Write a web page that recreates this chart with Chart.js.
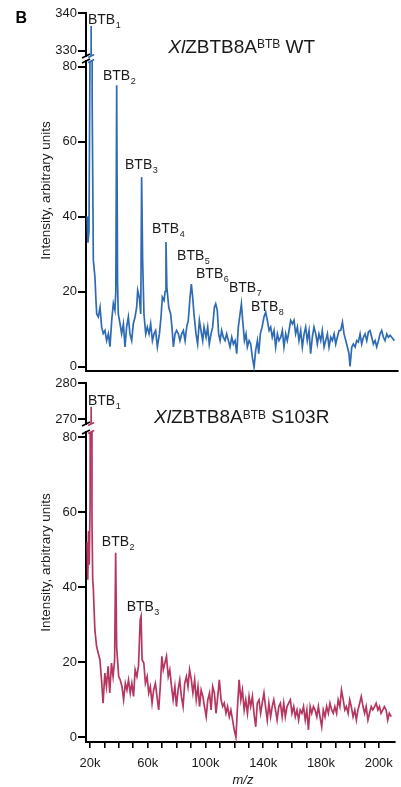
<!DOCTYPE html>
<html>
<head>
<meta charset="utf-8">
<script src="https://cdn.jsdelivr.net/npm/chart.js@4"></script>
<style>
html, body { margin: 0; padding: 0; background: #fff; }
#wrap { position: relative; width: 401px; height: 787px; }
#wrap canvas { position: absolute; left: 0; top: 0; }
</style>
</head>
<body>
<div id="wrap">
<canvas id="wtHigh" width="401" height="787"></canvas>
<canvas id="wtLow" width="401" height="787"></canvas>
<canvas id="mutHigh" width="401" height="787"></canvas>
<canvas id="mutLow" width="401" height="787"></canvas>
</div>
<script>
// m/z in thousands, intensity in arbitrary units
var wtMz = [18.0, 18.6, 19.3, 20.1, 20.8, 21.5, 22.3, 23.4, 24.1, 24.6, 25.7, 26.9, 28.0, 29.1, 30.3, 31.4, 32.6, 33.7, 34.9, 36.0,
    37.1, 37.7, 38.3, 38.9, 39.4, 40.6, 41.7, 42.9, 44.0, 45.1, 46.3, 47.4, 48.6, 49.7, 50.9, 52.0, 52.7, 53.8, 54.8, 55.4,
    56.1, 57.0, 58.2, 59.3, 60.5, 61.6, 62.8, 63.9, 65.0, 66.2, 67.6, 68.7, 69.6, 70.8, 71.5, 72.1, 72.7, 74.0, 75.3, 76.2,
    77.2, 78.3, 79.4, 80.6, 81.7, 82.9, 84.0, 85.2, 86.3, 87.4, 88.6, 89.5, 90.4, 91.3, 92.7, 93.8, 95.0, 96.1, 97.3, 98.2,
    99.6, 100.7, 101.8, 103.0, 104.1, 105.3, 106.2, 107.3, 108.2, 109.2, 110.3, 111.4, 112.6, 113.7, 114.9, 116.0, 117.2, 118.3, 119.5, 120.6,
    121.7, 122.9, 123.8, 124.7, 125.9, 127.0, 127.9, 129.1, 130.2, 131.3, 132.5, 133.6, 134.8, 135.7, 136.8, 138.0, 139.3, 140.5, 141.6, 142.8,
    143.9, 145.0, 146.2, 147.3, 148.5, 149.6, 150.8, 151.9, 153.0, 154.2, 155.3, 156.5, 157.6, 158.8, 159.9, 161.0, 162.2, 163.3, 164.5, 165.6,
    166.8, 167.9, 169.0, 170.2, 171.3, 172.5, 173.6, 174.8, 175.9, 177.0, 178.2, 179.3, 180.5, 181.6, 182.8, 183.9, 185.1, 186.2, 187.4, 188.5,
    189.6, 190.8, 191.9, 193.1, 194.2, 195.4, 196.5, 197.6, 198.3, 199.5, 200.6, 201.8, 202.9, 204.0, 205.2, 206.3, 207.5, 208.6, 209.8, 210.9,
    212.0, 213.2, 214.3, 215.5, 216.6, 217.8, 218.9, 220.0, 221.2, 222.3, 223.5, 224.6, 225.8, 226.9, 228.7];
var wtInt = [40, 33, 36, 90, 336.6, 70, 28.3, 23.8, 17.6, 14, 13.2, 15.8, 10.5, 8.8, 9.6, 6.9, 8.7, 5.3, 12.3, 16.8,
    15, 20, 75, 22, 14, 11.4, 8.7, 11.4, 5.2, 10.5, 13.2, 8.7, 6.9, 11.4, 13.2, 15.8, 20.3, 18.5, 14, 50.5,
    28.3, 14, 8.7, 10.5, 8.7, 11.4, 6.9, 8.7, 9.6, 5.2, 8.7, 13.2, 18.5, 17.6, 20, 33.2, 21.2, 15.8, 14, 10.5,
    5.2, 8.7, 9.6, 8.7, 6.9, 8.7, 9.6, 6.9, 10.5, 12.3, 18.5, 22, 18.5, 14, 8.7, 6, 12.3, 9.6, 6.9, 10.5,
    7.8, 10.5, 6, 8.7, 10.5, 15.8, 16.7, 14.9, 8.7, 6.9, 9.6, 7.8, 6.9, 8.7, 6.9, 5.2, 7.8, 6, 6.9, 3.4,
    10.5, 14, 16.7, 12.3, 6.9, 8.7, 5.2, 6.9, 6, 2.5, -0.2, 4.3, 6.9, 3.4, 8.7, 10.5, 13.2, 14.5, 12.3, 9.6,
    10.5, 7.8, 9.6, 5.2, 8.7, 6.9, 7.8, 9.6, 5.2, 8.7, 6.9, 9.6, 12.3, 11.4, 12.3, 8.7, 10.5, 6.9, 9.6, 5.2,
    8.7, 10.5, 6.9, 9.6, 3.4, 8, 10.5, 8.7, 6, 8.7, 6.9, 9.6, 5.2, 6.9, 8.7, 5.2, 7.8, 6.9, 8.7, 6,
    7.8, 9.6, 9.6, 11.8, 8.7, 6.9, 5.2, 3.4, 0, 5.2, 6, 5.2, 6.9, 6.5, 8.7, 6, 7.8, 8.7, 6.9, 9.2,
    9.6, 7.8, 6, 6.9, 5.2, 6.9, 8.7, 9.6, 7.8, 6.9, 8.7, 7.8, 8.3, 7.8, 6.9];

var mutMz = [18.0, 18.5, 19.0, 19.5, 20.1, 20.8, 21.4, 21.9, 22.3, 23.4, 24.6, 25.7, 26.9, 28.0, 29.1, 30.3, 31.4, 32.6, 33.7, 34.9,
    36.0, 37.1, 37.8, 38.5, 39.9, 41.0, 42.2, 43.3, 44.5, 45.6, 46.7, 47.9, 49.0, 50.2, 51.3, 52.5, 53.6, 54.8, 55.4, 56.1,
    57.3, 58.4, 59.6, 60.7, 61.8, 63.0, 64.1, 65.3, 66.4, 67.6, 68.7, 69.8, 70.8, 71.9, 73.0, 74.2, 75.3, 76.5, 77.6, 78.8,
    79.9, 81.0, 82.2, 83.3, 84.5, 85.6, 86.8, 87.9, 89.0, 90.2, 91.3, 92.5, 93.6, 94.8, 95.9, 97.0, 98.2, 99.3, 100.5, 101.6,
    102.8, 103.9, 105.0, 106.2, 107.3, 108.5, 109.6, 110.8, 111.9, 113.0, 114.2, 115.3, 116.5, 117.6, 118.8, 119.9, 121.1, 122.2, 123.3, 124.5,
    125.6, 126.8, 127.9, 129.1, 130.2, 131.3, 132.5, 133.6, 134.8, 135.9, 137.1, 138.2, 139.3, 140.5, 141.6, 142.8, 143.9, 145.1, 146.2, 147.3,
    148.5, 149.6, 150.8, 151.9, 153.1, 154.2, 155.3, 156.5, 157.6, 158.8, 159.9, 161.1, 162.2, 163.4, 164.5, 165.6, 166.8, 167.9, 169.1, 170.2,
    171.3, 172.5, 173.6, 174.8, 175.9, 177.1, 178.2, 179.3, 180.5, 181.6, 182.8, 183.9, 185.1, 186.2, 187.4, 188.5, 189.6, 190.8, 191.9, 193.1,
    194.2, 195.4, 196.5, 197.6, 198.8, 199.9, 201.0, 202.2, 203.4, 204.5, 205.6, 206.8, 207.9, 209.1, 210.2, 211.3, 212.5, 213.6, 214.8, 215.9,
    217.1, 218.2, 219.4, 220.5, 221.6, 222.8, 223.9, 225.1, 226.2, 227.3, 228.7];
var mutInt = [52, 42, 55, 46, 62, 273.5, 58, 42, 40, 28.7, 24.2, 22.5, 20.7, 15.3, 9.1, 17.1, 13.5, 18.9, 11.8, 19.8,
    16.2, 20.7, 49.2, 24, 16.2, 15.3, 13.5, 10, 14.4, 12.6, 15.3, 11.8, 14.4, 10.9, 18, 16.2, 18.9, 31.4, 32.3, 20.7,
    19.8, 14.4, 16.2, 11.8, 13.5, 9.1, 12.6, 14.4, 10.9, 7.3, 13.5, 21.6, 18, 19.8, 21.6, 16.2, 18, 13.5, 10, 13.5,
    8.2, 12.6, 15.3, 10.9, 8.2, 14.4, 16.2, 13.5, 18, 15.3, 11.8, 15.3, 10, 13.5, 8.2, 12.6, 10.9, 8.2, 5.5, 10,
    11.8, 7.3, 13.5, 11.8, 6.4, 10.9, 15.3, 10, 8.2, 9.1, 6.4, 8.2, 5.5, 7.3, 4.6, 2, 0, 8.2, 15.3, 10,
    12.6, 7.3, 10, 6.4, 10.9, 8.2, 10.9, 6.4, 2.8, 9.1, 10, 6.4, 9.1, 11.8, 8.2, 4.6, 9.1, 5.5, 8.2, 10,
    7.3, 4.6, 8.2, 9.1, 5.5, 9.1, 5.5, 8.2, 9.1, 10, 6.4, 8.2, 5.5, 7.3, 4.6, 7.3, 6.4, 8.2, 4.6, 7.3,
    2, 8.2, 6.4, 8.2, 7.3, 5.5, 8.2, 5.5, 2.8, 7.3, 5.5, 8.2, 6.4, 9.1, 7.3, 6.4, 8.2, 6.4, 10, 8.2,
    12.6, 10, 7.3, 8.2, 6.4, 10, 8.2, 5.5, 7.3, 4.6, 7.3, 9.1, 10.9, 8.2, 6.4, 8.2, 4.6, 6.4, 8.2, 7.3,
    8.2, 9.1, 7.3, 8.2, 6.4, 7.3, 8.2, 7.3, 4.6, 6.4, 5.5];

var xTicks = [20, 30, 40, 50, 60, 70, 80, 90, 100, 110, 120, 130, 140, 150, 160, 170, 180, 190, 200, 210, 220];
var xLabelAt = [20, 60, 100, 140, 180, 220];
var xLabels = ['20k', '60k', '100k', '140k', '180k', '200k'];
var wtHighTicks = [330, 340];
var mutHighTicks = [270, 280];
var lowTicks = [0, 20, 40, 60, 80];

var FONT = '"Liberation Sans", Arial, sans-serif';
var INK = '#1a1a1a';
var BLUE = '#2f6bb4';
var RED = '#b5375f';

function toPoints(mz, ints) {
    var pts = [];
    for (var i in mz) {
        pts.push({ x: mz[i], y: ints[i] });
    }
    return pts;
}

// "BTB" with a subscript, anchored at (m/z, intensity)
function peakLabels(items) {
    return {
        id: 'peakLabels',
        afterDatasetsDraw: function (chart) {
            var ctx = chart.ctx;
            ctx.save();
            ctx.fillStyle = INK;
            ctx.textBaseline = 'alphabetic';
            items.forEach(function (it) {
                var px = chart.scales.x.getPixelForValue(it[0]);
                var py = chart.scales.y.getPixelForValue(it[1]);
                ctx.font = '14px ' + FONT;
                ctx.fillText('BTB', px, py);
                var w = ctx.measureText('BTB').width;
                ctx.font = '9px ' + FONT;
                ctx.fillText(it[2], px + w + 0.5, py + 4);
            });
            ctx.restore();
        }
    };
}

// little slashes where the y axis is broken
function breakMarks(edge, peakMz, color) {
    return {
        id: 'breakMarks',
        afterDraw: function (chart) {
            var a = chart.chartArea, ctx = chart.ctx;
            var y = edge === 'top' ? a.top : a.bottom;
            var px = chart.scales.x.getPixelForValue(peakMz);
            ctx.save();
            ctx.lineWidth = 1.6;
            ctx.strokeStyle = '#000';
            ctx.beginPath();
            ctx.moveTo(a.left - 4, y + 2);
            ctx.lineTo(a.left + 4, y - 2);
            ctx.stroke();
            ctx.strokeStyle = color;
            ctx.beginPath();
            ctx.moveTo(px - 3, y + 1.5);
            ctx.lineTo(px + 3, y - 1.5);
            ctx.stroke();
            ctx.restore();
        }
    };
}

function drawRuns(ctx, x, y, runs) {
    runs.forEach(function (r) {
        ctx.font = r[1];
        ctx.fillText(r[0], x, y + (r[2] || 0));
        x += ctx.measureText(r[0]).width;
    });
}

var pageText = {
    id: 'pageText',
    afterDraw: function (chart) {
        var ctx = chart.ctx;
        ctx.save();
        ctx.textAlign = 'left';
        ctx.textBaseline = 'alphabetic';
        ctx.font = 'bold 16px ' + FONT;
        ctx.fillStyle = '#000';
        ctx.fillText('B', 15.5, 22.7);
        ctx.fillStyle = INK;
        drawRuns(ctx, 168.3, 52.7, [['Xl', 'italic 19px ' + FONT], ['ZBTB8A', '19px ' + FONT],
            ['BTB', '12px ' + FONT, -4.5], [' WT', '19px ' + FONT]]);
        drawRuns(ctx, 154, 423, [['Xl', 'italic 19px ' + FONT], ['ZBTB8A', '19px ' + FONT],
            ['BTB', '12px ' + FONT, -4.5], [' S103R', '19px ' + FONT]]);
        ctx.textAlign = 'center';
        ctx.font = 'italic 13px ' + FONT;
        ctx.fillText('m/z', 243, 784);
        ctx.textBaseline = 'middle';
        ctx.font = '13.5px ' + FONT;
        [190.5, 562.5].forEach(function (cy) {
            ctx.save();
            ctx.translate(46, cy);
            ctx.rotate(-Math.PI / 2);
            ctx.fillText('Intensity, arbitrary units', 0, 0);
            ctx.restore();
        });
        ctx.restore();
    }
};

function panelChart(id, o) {
    var full = o.xMode === 'full';
    return new Chart(document.getElementById(id), {
        type: 'line',
        data: {
            datasets: [{
                data: o.points,
                borderColor: o.color,
                borderWidth: 1.7,
                pointRadius: 0,
                tension: 0,
                fill: false
            }]
        },
        options: {
            responsive: false,
            animation: false,
            events: [],
            layout: { padding: { top: o.top, bottom: o.bottom, left: 0, right: 3 } },
            plugins: { legend: { display: false }, tooltip: { enabled: false } },
            scales: {
                x: {
                    type: 'linear',
                    min: 17.26,
                    max: 231.2,
                    display: o.xMode !== 'none',
                    afterBuildTicks: function (s) {
                        s.ticks = xTicks.map(function (v) { return { value: v }; });
                    },
                    afterFit: function (s) { s.height = o.xHeight; },
                    border: { display: true, color: '#000', width: 2 },
                    grid: { display: full, drawOnChartArea: false, color: '#000', lineWidth: 1.6, tickLength: 6 },
                    ticks: {
                        display: full,
                        autoSkip: false,
                        maxRotation: 0,
                        padding: 8,
                        color: INK,
                        font: { family: FONT, size: 13 },
                        callback: function (v) {
                            var i = xLabelAt.indexOf(v);
                            return i < 0 ? '' : xLabels[i];
                        }
                    }
                },
                y: {
                    type: 'linear',
                    min: o.yMin,
                    max: o.yMax,
                    afterBuildTicks: function (s) {
                        s.ticks = o.yTicks.map(function (v) { return { value: v }; });
                    },
                    afterFit: function (s) { s.width = 86; },
                    border: { display: true, color: '#000', width: 2 },
                    grid: { drawOnChartArea: false, color: '#000', lineWidth: 2, tickLength: 8 },
                    ticks: { padding: 1, color: INK, font: { family: FONT, size: 13 } }
                }
            }
        },
        plugins: o.plugins
    });
}

panelChart('wtHigh', {
    points: toPoints(wtMz, wtInt), color: BLUE, xMode: 'none', xHeight: 0,
    top: 13.3, bottom: 731, yMin: 328.6, yMax: 340, yTicks: wtHighTicks,
    plugins: [peakLabels([[18.6, 337.1, '1']]), breakMarks('bottom', 20.8, BLUE)]
});

panelChart('wtLow', {
    points: toPoints(wtMz, wtInt), color: BLUE, xMode: 'line', xHeight: 1,
    top: 61, bottom: 415, yMin: -1.2, yMax: 81.47, yTicks: lowTicks,
    plugins: [peakLabels([[28.9, 76.4, '2'], [44.0, 52.7, '3'], [62.5, 35.6, '4'], [79.7, 28.4, '5'],
        [92.7, 23.6, '6'], [115.3, 19.9, '7'], [130.4, 14.8, '8']]), breakMarks('top', 20.8, BLUE)]
});

panelChart('mutHigh', {
    points: toPoints(mutMz, mutInt), color: RED, xMode: 'none', xHeight: 0,
    top: 383.3, bottom: 363, yMin: 268.7, yMax: 280, yTicks: mutHighTicks,
    plugins: [peakLabels([[18.6, 274, '1']]), breakMarks('bottom', 20.8, RED)]
});

panelChart('mutLow', {
    points: toPoints(mutMz, mutInt), color: RED, xMode: 'full', xHeight: 45,
    top: 432, bottom: 0, yMin: -1.25, yMax: 81.4, yTicks: lowTicks,
    plugins: [peakLabels([[28.2, 50.9, '2'], [45.4, 33.8, '3']]), breakMarks('top', 20.8, RED), pageText]
});
</script>
</body>
</html>
